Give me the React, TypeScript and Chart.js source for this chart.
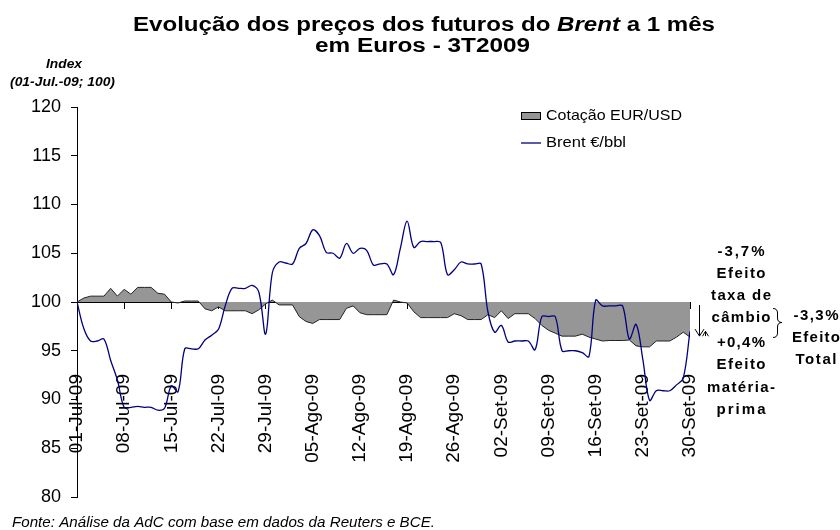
import React, { useEffect, useRef } from 'react';
import { Chart, registerables } from 'chart.js';

Chart.register(...registerables);

// Week tick labels (every 7 calendar days, 01-Jul-09 .. 30-Set-09)
const tickLabels = [
  '01-Jul-09', '08-Jul-09', '15-Jul-09', '22-Jul-09', '29-Jul-09',
  '05-Ago-09', '12-Ago-09', '19-Ago-09', '26-Ago-09',
  '02-Set-09', '09-Set-09', '16-Set-09', '23-Set-09', '30-Set-09',
];

// Daily index values (01-Jul-09 = 100), one per calendar day
const eurUsd = [
  100, 100.4, 100.6, 100.6, 100.6, 101.4, 100.6, 101.3, 100.8, 101.5,
  101.5, 101.5, 100.9, 100.8, 100.0, 99.9, 100.1, 100.1, 100.1, 99.3,
  99.1, 99.5, 99.1, 99.1, 99.1, 99.1, 98.8, 99.2, 99.8, 100.2,
  99.7, 99.7, 99.7, 98.5, 98.0, 97.8, 98.2, 98.2, 98.2, 98.2,
  99.35, 99.6, 98.9, 98.7, 98.7, 98.7, 98.7, 100.2, 100.0, 99.9,
  99.0, 98.4, 98.4, 98.4, 98.4, 98.4, 98.8, 98.6, 98.2, 98.2,
  98.2, 98.7, 98.4, 99.1, 98.3, 98.8, 98.8, 98.8, 98.3, 97.6,
  97.1, 96.8, 96.5, 96.5, 96.5, 96.7, 96.4, 96.2, 96.0, 96.05,
  96.05, 96.05, 96.1, 95.5, 95.4, 95.4, 96.0, 96.0, 96.0, 96.4,
  96.9, 96.4,
];

const brentEur = [
  100, 97.3, 96.0, 96.0, 96.2, 94.0, 92.0, 89.2, 89.2, 89.3,
  89.2, 89.2, 88.9, 89.1, 91.4, 90.8, 95.2, 95.2, 95.2, 96.1,
  96.6, 97.2, 99.6, 101.4, 101.4, 101.4, 101.7, 101.0, 96.7, 103.0,
  104.1, 104.0, 103.9, 105.5, 106.0, 107.4, 106.8, 105.1, 105.0, 104.5,
  106.0, 105.0, 105.5, 105.3, 103.8, 103.9, 103.9, 102.8, 105.5, 108.3,
  105.6, 106.2, 106.2, 106.2, 106.1, 102.8, 103.3, 104.1, 103.9, 103.9,
  103.9, 99.0, 96.9, 97.6, 95.9, 96.0, 96.0, 96.0, 95.1, 98.5,
  98.5, 98.5, 95.0, 95.0, 95.0, 94.8, 94.4, 100.2, 99.6, 99.6,
  99.6, 99.6, 96.2, 97.7, 94.1, 89.9, 90.9, 90.9, 90.9, 91.5,
  92.2, 97.0,
];

const seriesNames = ['Cotação EUR/USD', 'Brent €/bbl'];
const titleParts = ['Evolução dos preços dos futuros do ', 'Brent', ' a 1 mês'];
const titleLine2 = 'em Euros - 3T2009';
const axisTitle = ['Index', '(01-Jul.-09; 100)'];
const effectLeft = ['-3,7%', 'Efeito', 'taxa de', 'câmbio', '+0,4%', 'Efeito', 'matéria-', 'prima'];
const effectRight = ['-3,3%', 'Efeito', 'Total'];
const sourceNote = 'Fonte: Análise da AdC com base em dados da Reuters e BCE.';

const FAM = '"Liberation Sans", Arial, Helvetica, sans-serif';

type Seg = { t: string; f: string };

function drawFit(
  ctx: CanvasRenderingContext2D,
  segs: Seg[],
  x: number,
  baseline: number,
  width: number,
  align: 'left' | 'center'
) {
  let w = 0;
  for (const s of segs) {
    ctx.font = s.f;
    w += ctx.measureText(s.t).width;
  }
  const sx = width / w;
  const left = align === 'center' ? x - width / 2 : x;
  ctx.save();
  ctx.translate(left, baseline);
  ctx.scale(sx, 1);
  ctx.textAlign = 'left';
  ctx.textBaseline = 'alphabetic';
  ctx.fillStyle = '#000';
  let cx = 0;
  for (const s of segs) {
    ctx.font = s.f;
    ctx.fillText(s.t, cx, 0);
    cx += ctx.measureText(s.t).width;
  }
  ctx.restore();
}

// Letter-spaced text centred on x, stretched to a target width by spacing
function drawSpaced(
  ctx: CanvasRenderingContext2D,
  t: string,
  font: string,
  x: number,
  baseline: number,
  width: number
) {
  ctx.save();
  ctx.font = font;
  const anyCtx = ctx as any;
  if ('letterSpacing' in anyCtx) {
    anyCtx.letterSpacing = '0px';
    const nat = ctx.measureText(t).width;
    const n = Array.from(t).length;
    const ls = Math.max(0, (width - nat) / Math.max(1, n - 1));
    anyCtx.letterSpacing = `${ls.toFixed(2)}px`;
    ctx.textAlign = 'left';
    ctx.textBaseline = 'alphabetic';
    ctx.fillStyle = '#000';
    ctx.fillText(t, x - width / 2, baseline);
    ctx.restore();
  } else {
    ctx.restore();
    drawFit(ctx, [{ t, f: font }], x, baseline, width, 'center');
  }
}

const decorPlugin = {
  id: 'decor',
  afterDraw(chart: any) {
    const ctx: CanvasRenderingContext2D = chart.ctx;
    const ys = chart.scales.y;
    const B = `bold 20px ${FAM}`;
    const BI = `italic bold 20px ${FAM}`;
    // Title
    drawFit(ctx, [
      { t: titleParts[0], f: B },
      { t: titleParts[1], f: BI },
      { t: titleParts[2], f: B },
    ], 133, 31, 582, 'left');
    drawFit(ctx, [{ t: titleLine2, f: B }], 315, 52, 215, 'left');

    // Axis title
    drawFit(ctx, [{ t: axisTitle[0], f: `italic bold 12px ${FAM}` }], 64, 68, 36, 'center');
    drawFit(ctx, [{ t: axisTitle[1], f: `italic bold 12px ${FAM}` }], 62.5, 86, 105, 'center');

    // Legend
    ctx.save();
    ctx.fillStyle = '#969696';
    ctx.strokeStyle = '#000';
    ctx.lineWidth = 1;
    ctx.fillRect(521, 112, 20, 7);
    ctx.strokeRect(521.5, 112.5, 19, 7);
    ctx.strokeStyle = '#000080';
    ctx.lineWidth = 1.3;
    ctx.beginPath();
    ctx.moveTo(521, 143);
    ctx.lineTo(541, 143);
    ctx.stroke();
    ctx.restore();
    drawFit(ctx, [{ t: seriesNames[0], f: `15px ${FAM}` }], 546, 120, 136, 'left');
    drawFit(ctx, [{ t: seriesNames[1], f: `15px ${FAM}` }], 546, 147, 80, 'left');

    // Effect annotations
    const AF = `bold 15px ${FAM}`;
    const leftBase = [256, 278, 300, 322, 347, 369, 392, 414];
    const leftW = [47, 49, 60, 59, 48, 49, 68, 49];
    effectLeft.forEach((t, i) => drawSpaced(ctx, t, AF, 741, leftBase[i], leftW[i]));
    const rightBase = [320, 342, 364];
    const rightW = [45, 48, 41];
    effectRight.forEach((t, i) => drawSpaced(ctx, t, AF, 816, rightBase[i], rightW[i]));

    // Brace
    ctx.save();
    ctx.strokeStyle = '#000';
    ctx.lineWidth = 1;
    ctx.beginPath();
    ctx.moveTo(773, 308.5);
    ctx.quadraticCurveTo(777.5, 308.5, 777.5, 313);
    ctx.lineTo(777.5, 318);
    ctx.quadraticCurveTo(777.5, 322.5, 782, 322.5);
    ctx.quadraticCurveTo(777.5, 322.5, 777.5, 327);
    ctx.lineTo(777.5, 333);
    ctx.quadraticCurveTo(777.5, 337.5, 773, 337.5);
    ctx.stroke();

    // Arrows (from 100 to final EUR/USD, then up to final Brent)
    const y100 = ys.getPixelForValue(100);
    const yEur = ys.getPixelForValue(eurUsd[eurUsd.length - 1]);
    const yBrent = ys.getPixelForValue(brentEur[brentEur.length - 1]);
    ctx.beginPath();
    ctx.moveTo(699.5, y100 + 3);
    ctx.lineTo(699.5, yEur - 1);
    ctx.moveTo(695, yEur - 8);
    ctx.lineTo(699.5, yEur - 1);
    ctx.lineTo(704, yEur - 8);
    ctx.stroke();
    ctx.beginPath();
    ctx.moveTo(705.5, yEur - 1);
    ctx.lineTo(705.5, yBrent);
    ctx.moveTo(702.5, yBrent + 5);
    ctx.lineTo(705.5, yBrent);
    ctx.lineTo(708.5, yBrent + 5);
    ctx.stroke();
    ctx.restore();

    // Source
    drawFit(ctx, [{ t: sourceNote, f: `italic 14px ${FAM}` }], 12, 527, 423, 'left');
  },
};

export default function App() {
  const ref = useRef<HTMLCanvasElement | null>(null);
  useEffect(() => {
    if (!ref.current) return;
    const chart = new Chart(ref.current, {
      type: 'line',
      data: {
        datasets: [
          {
            label: seriesNames[1],
            data: brentEur.map((v, i) => ({ x: i, y: v })),
            borderColor: '#000080',
            borderWidth: 1.3,
            pointRadius: 0,
            tension: 0.35,
            fill: false,
            order: 0,
          },
          {
            label: seriesNames[0],
            data: eurUsd.map((v, i) => ({ x: i, y: v })),
            borderColor: '#222',
            borderWidth: 1,
            backgroundColor: '#969696',
            pointRadius: 0,
            tension: 0,
            fill: { value: 100 },
            order: 1,
          },
        ],
      },
      options: {
        responsive: false,
        animation: false,
        devicePixelRatio: 1,
        layout: { padding: { left: 0, right: 150, top: 107, bottom: 33 } },
        plugins: {
          legend: { display: false },
          title: { display: false },
          tooltip: { enabled: false },
        },
        scales: {
          x: {
            type: 'linear',
            min: 0,
            max: 91,
            position: { y: 100 } as any,
            z: 1,
            afterFit: (s: any) => {
              s.height = 0;
            },
            border: { display: true, color: '#000', width: 1 },
            grid: { drawOnChartArea: false, drawTicks: true, tickLength: 6, color: '#000' },
            ticks: {
              stepSize: 7,
              autoSkip: false,
              minRotation: 90,
              maxRotation: 90,
              padding: 66,
              color: '#000',
              font: { family: FAM, size: 19 },
              callback: (v: any) => tickLabels[Math.round(Number(v) / 7)] ?? '',
            },
          },
          y: {
            min: 80,
            max: 120,
            afterFit: (s: any) => {
              s.width = 77;
            },
            border: { display: true, color: '#000', width: 1 },
            grid: { drawOnChartArea: false, drawTicks: true, tickLength: 6, color: '#000' },
            ticks: {
              stepSize: 5,
              padding: 10,
              color: '#000',
              font: { family: FAM, size: 18 },
            },
          },
        },
      },
      plugins: [decorPlugin],
    } as any);
    return () => chart.destroy();
  }, []);
  return (
    <div style={{ position: 'fixed', left: 0, top: 0, width: 840, height: 530, background: '#fff' }}>
      <canvas ref={ref} width={840} height={530} style={{ display: 'block' }} />
    </div>
  );
}
